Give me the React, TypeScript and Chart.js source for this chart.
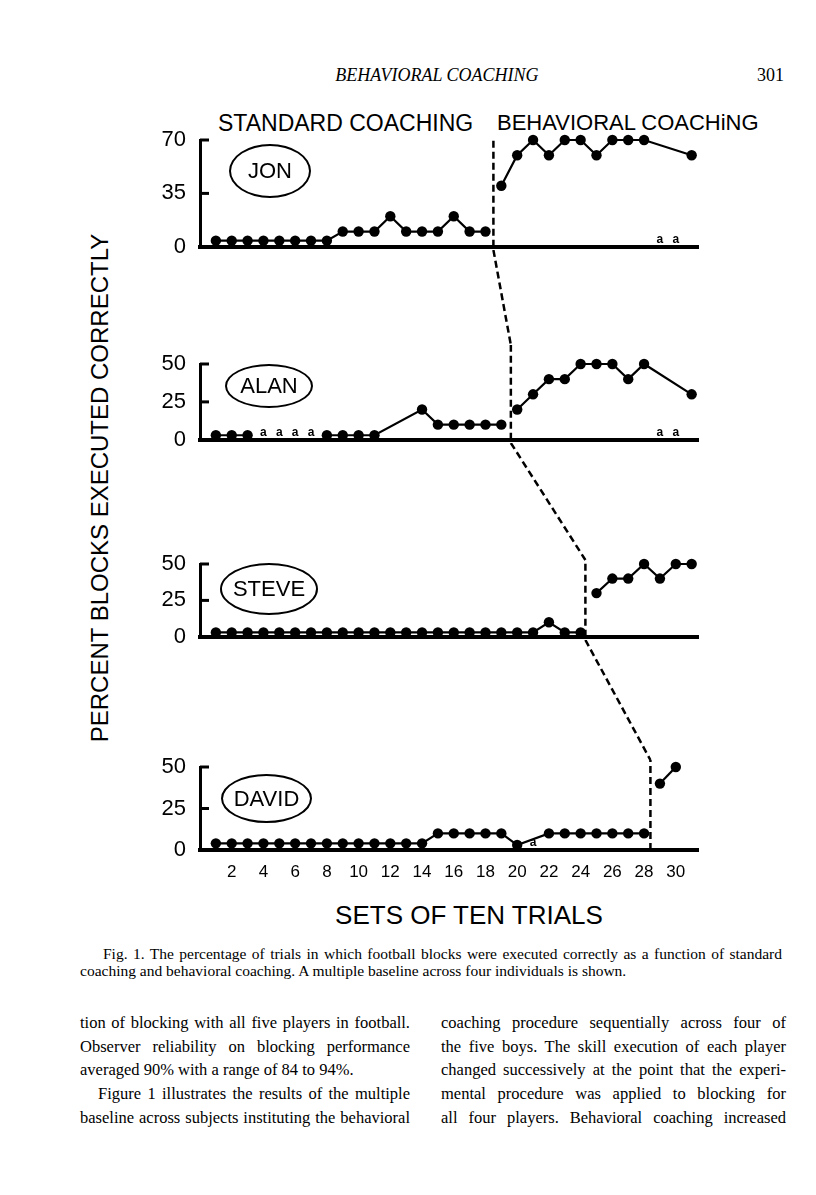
import React, { useEffect, useRef } from "react";
import { Chart, registerables } from "chart.js";
Chart.register(...registerables);

// ---------- data ----------
const sessions = [1,2,3,4,5,6,7,8,9,10,11,12,13,14,15,16,17,18,19,20,21,22,23,24,25,26,27,28,29,30,31];

// percent of blocks executed correctly per set of ten trials (null = no data / absent)
const jonValues = [4,4,4,4,4,4,4,4,10,10,10,20,10,10,10,20,10,10, 40,60,70,60,70,70,60,70,70,70,null,null,60];
const alanValues = [3,3,3,null,null,null,null,3,3,3,3,null,null,20,10,10,10,10,10, 20,30,40,40,50,50,50,40,50,null,null,30];
const steveValues = [3,3,3,3,3,3,3,3,3,3,3,3,3,3,3,3,3,3,3,3,3,10,3,3, 30,40,40,50,40,50,50];
const davidValues = [4,4,4,4,4,4,4,4,4,4,4,4,4,4,10,10,10,10,10,3,null,10,10,10,10,10,10,10, 40,50];

// connected runs of sessions (first, last)
const jonRuns = [[1, 18], [19, 31]];
const alanRuns = [[1, 3], [8, 19], [20, 31]];
const steveRuns = [[1, 24], [25, 31]];
const davidRuns = [[1, 28], [29, 30]];

// sessions marked "a" (absent)
const jonAbsent = [29, 30];
const alanAbsent = [4, 5, 6, 7, 29, 30];
const steveAbsent: number[] = [];
const davidAbsent = [21];

// phase change (standard -> behavioral coaching)
const jonPhase = 18.5;
const alanPhase = 19.6;
const stevePhase = 24.3;
const davidPhase = 28.4;

const jonYTicks = [0, 35, 70];
const otherYTicks = [0, 25, 50];
const xTickLabels = [2, 4, 6, 8, 10, 12, 14, 16, 18, 20, 22, 24, 26, 28, 30];
const xMax = 31.4;

// ---------- layout ----------
const SANS = '"Liberation Sans", Arial, Helvetica, sans-serif';
const SERIF = '"Liberation Serif", "Times New Roman", serif';
const CANVAS_LEFT = 120;
const CANVAS_WIDTH = 600;
const Y_AXIS_W = 80;
const PAD_RIGHT = 22;

type Panel = {
  key: string;
  values: (number | null)[];
  runs: number[][];
  absent: number[];
  yTicks: number[];
  phase: number;
  prevPhase: number | null;
  canvasTop: number;
  chartTop: number;
  chartBottom: number;
  axisH: number;
  phaseExtend: number;
  showX: boolean;
};

const panels: Panel[] = [
  { key: "jon", values: jonValues, runs: jonRuns, absent: jonAbsent, yTicks: jonYTicks, phase: jonPhase, prevPhase: null,
    canvasTop: 120, chartTop: 140, chartBottom: 250, axisH: 16, phaseExtend: 2, showX: false },
  { key: "alan", values: alanValues, runs: alanRuns, absent: alanAbsent, yTicks: otherYTicks, phase: alanPhase, prevPhase: jonPhase,
    canvasTop: 250, chartTop: 364, chartBottom: 443, axisH: 16, phaseExtend: 19, showX: false },
  { key: "steve", values: steveValues, runs: steveRuns, absent: steveAbsent, yTicks: otherYTicks, phase: stevePhase, prevPhase: alanPhase,
    canvasTop: 443, chartTop: 564, chartBottom: 640, axisH: 16, phaseExtend: 4, showX: false },
  { key: "david", values: davidValues, runs: davidRuns, absent: davidAbsent, yTicks: otherYTicks, phase: davidPhase, prevPhase: stevePhase,
    canvasTop: 640, chartTop: 767, chartBottom: 850, axisH: 30, phaseExtend: 7, showX: true },
];

function PanelChart({ p }: { p: Panel }) {
  const ref = useRef<HTMLCanvasElement | null>(null);
  const height = p.chartBottom + p.axisH - p.canvasTop;
  useEffect(() => {
    if (!ref.current) return;
    const datasets = p.runs.map(([a, b]) => ({
      data: sessions.filter((s) => s >= a && s <= b && s <= p.values.length).map((s) => ({ x: s, y: p.values[s - 1] })),
      borderColor: "#000",
      borderWidth: 2.2,
      pointRadius: 5.2,
      pointBackgroundColor: "#000",
      pointBorderWidth: 0,
      tension: 0,
      spanGaps: true,
      clip: false as any,
    }));
    const decor = {
      id: "decor" + p.key,
      afterDatasetsDraw(chart: any) {
        const { ctx, chartArea } = chart;
        const xs = chart.scales.x;
        const ys = chart.scales.y;
        ctx.save();
        ctx.strokeStyle = "#000";
        ctx.lineWidth = 3;
        p.yTicks.forEach((v) => {
          if (v === 0) return;
          const py = ys.getPixelForValue(v);
          ctx.beginPath();
          ctx.moveTo(chartArea.left, py);
          ctx.lineTo(chartArea.left + 9, py);
          ctx.stroke();
        });
        ctx.fillStyle = "#000";
        ctx.font = 'bold 12px ' + SANS;
        ctx.textAlign = "center";
        ctx.textBaseline = "alphabetic";
        p.absent.forEach((s) => ctx.fillText("a", xs.getPixelForValue(s), chartArea.bottom - 4));
        ctx.setLineDash([7, 4]);
        ctx.lineWidth = 2.5;
        const px = xs.getPixelForValue(p.phase);
        const topY = chartArea.top - p.phaseExtend;
        ctx.beginPath();
        ctx.moveTo(px, chartArea.bottom);
        ctx.lineTo(px, topY);
        ctx.stroke();
        if (p.prevPhase !== null) {
          ctx.beginPath();
          ctx.moveTo(xs.getPixelForValue(p.prevPhase), 0);
          ctx.lineTo(px, topY);
          ctx.stroke();
        }
        ctx.restore();
      },
    };
    const chart = new Chart(ref.current, {
      type: "line",
      data: { datasets: datasets as any },
      options: {
        responsive: false,
        animation: false,
        devicePixelRatio: 1,
        events: [],
        layout: { padding: { top: p.chartTop - p.canvasTop, right: PAD_RIGHT, bottom: 0, left: 0 } },
        plugins: { legend: { display: false }, tooltip: { enabled: false }, title: { display: false } },
        scales: {
          x: {
            type: "linear",
            position: "bottom",
            min: 0,
            max: xMax,
            grid: { display: false },
            border: { display: true, color: "#000", width: 4 },
            ticks: { display: p.showX, autoSkip: false, maxRotation: 0, color: "#000", padding: 4, font: { family: SANS, size: 17 } },
            afterBuildTicks: (s: any) => { s.ticks = xTickLabels.map((v) => ({ value: v })); },
            afterFit: (s: any) => { s.height = p.axisH; },
          },
          y: {
            type: "linear",
            position: "left",
            min: 0,
            max: p.yTicks[p.yTicks.length - 1],
            grid: { display: false },
            border: { display: true, color: "#000", width: 3 },
            ticks: { color: "#000", padding: 6, font: { family: SANS, size: 22 } },
            afterBuildTicks: (s: any) => { s.ticks = p.yTicks.map((v) => ({ value: v })); },
            afterFit: (s: any) => { s.width = Y_AXIS_W; },
          },
        },
      },
      plugins: [decor],
    });
    return () => chart.destroy();
  }, []);
  return (
    <canvas
      ref={ref}
      width={CANVAS_WIDTH}
      height={height}
      style={{ position: "absolute", left: CANVAS_LEFT, top: p.canvasTop, width: CANVAS_WIDTH, height }}
    />
  );
}

const names = [
  { text: "JON", left: 229, top: 144, w: 82, h: 54 },
  { text: "ALAN", left: 225, top: 364, w: 88, h: 44 },
  { text: "STEVE", left: 220, top: 563, w: 98, h: 52 },
  { text: "DAVID", left: 221, top: 774, w: 91, h: 49 },
];

const bodyLeft = [
  "tion of blocking with all five players in football.",
  "Observer reliability on blocking performance",
  "averaged 90% with a range of 84 to 94%.",
  "Figure 1 illustrates the results of the multiple",
  "baseline across subjects instituting the behavioral",
];
const bodyRight = [
  "coaching procedure sequentially across four of",
  "the five boys. The skill execution of each player",
  "changed successively at the point that the experi-",
  "mental procedure was applied to blocking for",
  "all four players. Behavioral coaching increased",
];
const bodyLineCenters = [1025, 1049, 1072, 1096, 1120];

export default function App() {
  const abs = (o: any) => ({ position: "absolute" as const, margin: 0, ...o });
  return (
    <div style={{ position: "absolute", left: 0, top: 0, width: 816, height: 1195, background: "#fff", color: "#000", overflow: "hidden" }}>
      <div style={abs({ left: 237, top: 66, width: 400, textAlign: "center", font: `italic 18px/1 ${SERIF}` })}>BEHAVIORAL COACHING</div>
      <div style={abs({ left: 757, top: 66, font: `18px/1 ${SERIF}` })}>301</div>

      <div style={abs({ left: 218, top: 112, font: `23px/1 ${SANS}`, whiteSpace: "nowrap" })}>STANDARD COACHING</div>
      <div style={abs({ left: 497, top: 112, font: `22px/1 ${SANS}`, whiteSpace: "nowrap" })}>BEHAVIORAL COACHiNG</div>

      <div style={abs({ left: -180, top: 476, width: 560, height: 24, textAlign: "center", font: `24px/1 ${SANS}`, transform: "rotate(-90deg)", whiteSpace: "nowrap" })}>
        PERCENT BLOCKS EXECUTED CORRECTLY
      </div>

      {panels.map((p) => <PanelChart key={p.key} p={p} />)}

      {names.map((n) => (
        <div key={n.text} style={abs({ left: n.left, top: n.top, width: n.w, height: n.h, boxSizing: "border-box", border: "2px solid #000", borderRadius: "50%", display: "flex", alignItems: "center", justifyContent: "center", font: `22px/1 ${SANS}` })}>
          {n.text}
        </div>
      ))}

      <div style={abs({ left: 269, top: 902, width: 400, textAlign: "center", font: `26px/1 ${SANS}` })}>SETS OF TEN TRIALS</div>

      <div style={abs({ left: 80, top: 945, width: 702, font: `15.5px/17px ${SERIF}`, textAlign: "justify", textIndent: 23 })}>
        Fig. 1. The percentage of trials in which football blocks were executed correctly as a function of standard coaching and behavioral coaching. A multiple baseline across four individuals is shown.
      </div>

      {bodyLeft.map((t, i) => (
        <div key={"l" + i} style={abs({ left: i === 3 ? 98 : 80, top: bodyLineCenters[i] - 14, width: i === 3 ? 312 : 330, font: `16.5px/24px ${SERIF}`, whiteSpace: "nowrap", textAlign: i === 2 ? "left" : "justify", textAlignLast: i === 2 ? "left" : "justify" })}>{t}</div>
      ))}
      {bodyRight.map((t, i) => (
        <div key={"r" + i} style={abs({ left: 441, top: bodyLineCenters[i] - 14, width: 345, font: `16.5px/24px ${SERIF}`, whiteSpace: "nowrap", textAlign: "justify", textAlignLast: "justify" })}>{t}</div>
      ))}
    </div>
  );
}
